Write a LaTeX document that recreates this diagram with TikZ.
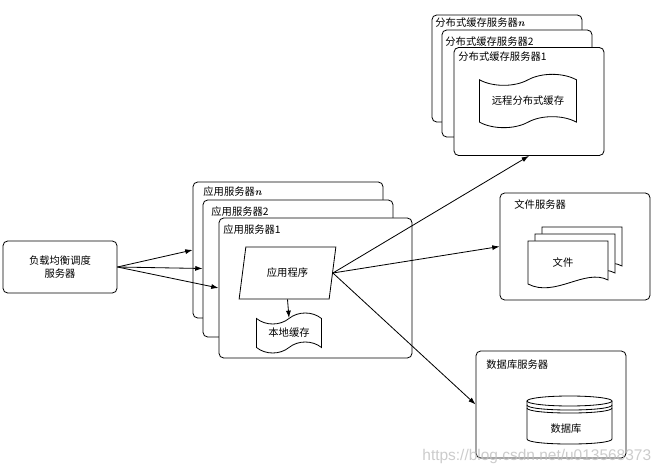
\documentclass[tikz,border=0pt]{standalone}
\usepackage{fontspec}
\usetikzlibrary{shapes.geometric,shapes.symbols,arrows.meta}
\newfontfamily\cjk{Noto Sans CJK SC}
\newfontfamily\urlfont{Liberation Sans}

\begin{document}
\begin{tikzpicture}
    [x = .3mm, y = -.3mm, line width = .7pt,
     every node/.style = {font = \cjk\fontsize{8.8}{11}\selectfont},
     server/.style = {draw, fill = white, rounded corners = 4pt, inner sep = 0pt},
     title/.style = {anchor = west, inner sep = 0pt},
     wave/.style = {draw, fill = white, tape, tape bend height = 3.3mm, inner sep = 0pt},
     link/.style = {-{Latex[length = 2.2mm, width = 1.5mm]}}]
    \useasboundingbox (0,0) rectangle (665,473);

    % load balancer
    \node[server, minimum width = 34.2mm, minimum height = 15.6mm, align = center] (lb) at (60,267) {负载均衡调度\\服务器};

    % application servers
    \node[server, minimum width = 57mm, minimum height = 40.8mm] (appn) at (288,250) {};
    \node[title] (tappn) at (203,192) {应用服务器{\rmfamily\bfseries\itshape n}};
    \node[server, minimum width = 57mm, minimum height = 41.1mm] (app2) at (298,268.5) {};
    \node[title] (tapp2) at (211,212) {应用服务器2};
    \node[server, minimum width = 57.9mm, minimum height = 42mm] (app1) at (315.5,288) {};
    \node[title] (tapp1) at (223,230) {应用服务器1};
    \node[trapezium, draw, fill = white, trapezium left angle = 71, trapezium right angle = 109,
          trapezium stretches = true, minimum width = 29.1mm, minimum height = 15.6mm, inner sep = 0pt] (prog) at (287.5,273) {应用程序};
    \node[wave, minimum width = 19.5mm, minimum height = 12mm] (local) at (289,333) {本地缓存};

    % distributed cache servers
    \node[server, minimum width = 45mm, minimum height = 32.1mm] (dcn) at (507,68.5) {};
    \node[title] (tdcn) at (435,23) {分布式缓存服务器{\rmfamily\bfseries\itshape n}};
    \node[server, minimum width = 45mm, minimum height = 32.1mm] (dc2) at (517,83.5) {};
    \node[title] (tdc2) at (445,42) {分布式缓存服务器2};
    \node[server, minimum width = 45mm, minimum height = 32.4mm] (dc1) at (529,101.5) {};
    \node[title] (tdc1) at (458,57) {分布式缓存服务器1};
    \node[wave, minimum width = 29.1mm, minimum height = 16mm] (remote) at (528,101) {远程分布式缓存};

    % file server
    \node[server, minimum width = 45mm, minimum height = 32.1mm] (fs) at (575,246.5) {};
    \node[title] (tfs) at (514,205) {文件服务器};
    \foreach \k in {2,1,0}
      \draw[fill = white, shift = {(\k*7,-\k*7)}]
        (528,241) -- (608,241) -- (608,280) .. controls (585,268) and (555,298) .. (528,284) -- cycle;
    \node (doc) at (563,263) {文件};

    % database server
    \node[server, minimum width = 45mm, minimum height = 32.1mm] (dbs) at (551,404.5) {};
    \node[title] (tdbs) at (486,365) {数据库服务器};
    \draw[fill = white] (527,401) -- (527,439) .. controls (527,445.7) and (612,445.7) .. (612,439) -- (612,401);
    \draw[fill = white] (569.5,401) ellipse [x radius = 42.5, y radius = 5];
    \draw (527,405) .. controls (527,411.7) and (612,411.7) .. (612,405);
    \draw (527,408) .. controls (527,414.7) and (612,414.7) .. (612,408);
    \node (db) at (566,429) {数据库};

    \foreach \to in {appn,app2,app1}
      \draw[link] (lb.east) -- (\to.west);
    \draw[link] (prog.south) -- (local.north);
    \foreach \to/\side in {dc1/south,fs/west,dbs/west}
      \draw[link] (prog.east) -- (\to.\side);

    \node[font = \urlfont\fontsize{13.2}{14}\selectfont, text = black!25, opacity = .8, anchor = base west, inner sep = 0pt] (wm) at (422,460) {https://blog.csdn.net/u013568373};
\end{tikzpicture}
\end{document}
